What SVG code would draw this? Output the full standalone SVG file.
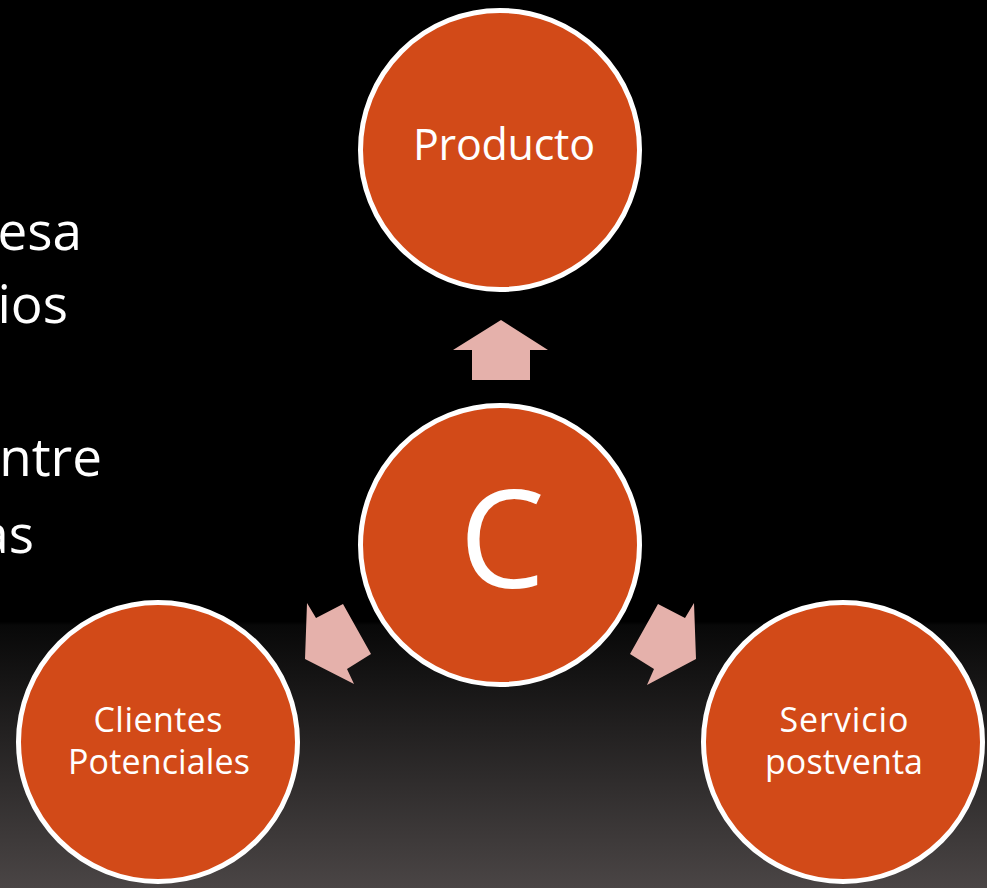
<svg xmlns="http://www.w3.org/2000/svg" width="987" height="888" viewBox="0 0 987 888">
  <defs>
    <linearGradient id="bg" x1="0" y1="0" x2="0" y2="888" gradientUnits="userSpaceOnUse">
      <stop offset="0" stop-color="#000000"/>
      <stop offset="0.700" stop-color="#000000"/>
      <stop offset="0.704" stop-color="#080808"/>
      <stop offset="1" stop-color="#4a4545"/>
    </linearGradient>
  </defs>
  <style>
    .node { fill: #D24A18; stroke: #FFFFFF; stroke-width: 5; }
    .lbl { fill: #FFFFFF; font-family: "Open Sans", "Noto Sans", sans-serif; text-anchor: middle; }
    .side { fill: #FFFFFF; font-family: "Open Sans", "Noto Sans", sans-serif; font-size: 53px; text-anchor: end; }
    .arrow { fill: #E5B1AB; stroke: none; }
  </style>
  <rect x="0" y="0" width="987" height="888" fill="url(#bg)"/>

  <g id="side-text">
    <text class="side" x="82" y="250">esa</text>
    <text class="side" x="68" y="323">ios</text>
    <text class="side" x="102" y="476">ntre</text>
    <text class="side" x="34" y="553">as</text>
  </g>

  <g id="connectors">
    <polygon class="arrow" points="501,320 548,350 530,350 530,380 472,380 472,350 453,350"/>
    <polygon class="arrow" points="305,659 307,603 316,618 343,604 371,654 347,669 354,684"/>
    <polygon class="arrow" points="696,659 694,603 685,618 658,604 630,654 654,669 647,685"/>
  </g>

  <g id="node-producto">
    <circle class="node" cx="500" cy="150" r="139.5"/>
    <text class="lbl" x="504" y="160" font-size="43" textLength="182" lengthAdjust="spacing">Producto</text>
  </g>

  <g id="node-c">
    <circle class="node" cx="500" cy="545" r="139.5"/>
    <text class="lbl" x="502" y="588" font-size="136">C</text>
  </g>

  <g id="node-clientes">
    <circle class="node" cx="158" cy="742" r="139.5"/>
    <text class="lbl" x="158" y="732" font-size="34" textLength="129" lengthAdjust="spacing">Clientes</text>
    <text class="lbl" x="159" y="774" font-size="34" textLength="182" lengthAdjust="spacing">Potenciales</text>
  </g>

  <g id="node-servicio">
    <circle class="node" cx="843" cy="742" r="139.5"/>
    <text class="lbl" x="844" y="732" font-size="34" textLength="129" lengthAdjust="spacing">Servicio</text>
    <text class="lbl" x="844" y="774" font-size="34" textLength="158" lengthAdjust="spacing">postventa</text>
  </g>
</svg>
